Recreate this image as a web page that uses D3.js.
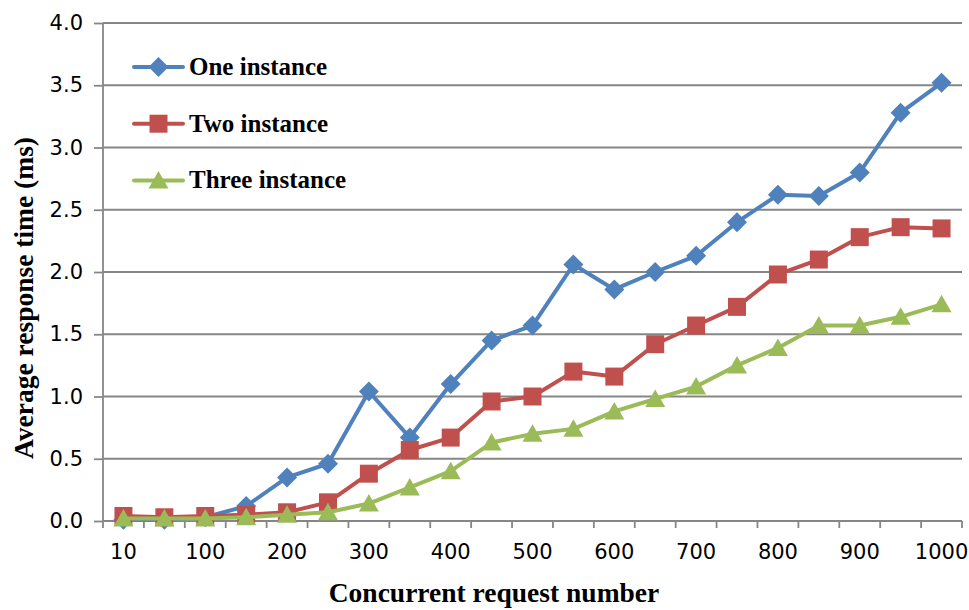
<!DOCTYPE html>
<html>
<head>
<meta charset="utf-8">
<script src="https://cdn.jsdelivr.net/npm/d3@7/dist/d3.min.js"></script>
<style>
  body { margin: 0; background: #fff; }
  svg { display: block; }
</style>
</head>
<body>
<div id="chart"></div>
<script>
// data
const categories = ["10", "50", "100", "150", "200", "250", "300", "350", "400", "450", "500",
                    "550", "600", "650", "700", "750", "800", "850", "900", "950", "1000"];
const oneInstance = [0.01, 0.01, 0.03, 0.12, 0.35, 0.46, 1.04, 0.67, 1.10, 1.45, 1.57,
                     2.06, 1.86, 2.00, 2.13, 2.40, 2.62, 2.61, 2.80, 3.28, 3.52];
const twoInstance = [0.04, 0.03, 0.04, 0.05, 0.07, 0.15, 0.38, 0.57, 0.67, 0.96, 1.00,
                     1.20, 1.16, 1.42, 1.57, 1.72, 1.98, 2.10, 2.28, 2.36, 2.35];
const threeInstance = [0.02, 0.02, 0.02, 0.03, 0.05, 0.07, 0.14, 0.27, 0.40, 0.63, 0.70,
                       0.74, 0.88, 0.98, 1.08, 1.25, 1.39, 1.57, 1.57, 1.64, 1.74];
const seriesNames = ["One instance", "Two instance", "Three instance"];
const yTicks = [0, 0.5, 1.0, 1.5, 2.0, 2.5, 3.0, 3.5, 4.0];

const W = 969, H = 610;
const margin = { top: 23, right: 7, bottom: 89, left: 103 };
const gridColor = "#868686";
const colors = ["#4f81bd", "#c0504d", "#9bbb59"];
const tickFont = "'DejaVu Sans', Verdana, sans-serif";
const titleFont = "'Liberation Serif', 'Times New Roman', serif";

const svg = d3.select("#chart").append("svg")
    .attr("width", W)
    .attr("height", H);

const x = d3.scaleBand()
    .domain(categories)
    .range([margin.left, W - margin.right])
    .padding(0);

const y = d3.scaleLinear()
    .domain([0, 4])
    .range([H - margin.bottom, margin.top]);

const cx = d => x(d) + x.bandwidth() / 2;

// horizontal gridlines
svg.append("g")
    .selectAll("line")
    .data(yTicks)
    .join("line")
    .attr("x1", margin.left)
    .attr("x2", W - margin.right)
    .attr("y1", d => y(d))
    .attr("y2", d => y(d))
    .attr("stroke", gridColor)
    .attr("stroke-width", 1.8);

// y axis
const yAxis = svg.append("g")
    .attr("transform", `translate(${margin.left},0)`)
    .call(d3.axisLeft(y).tickValues(yTicks).tickFormat(d3.format(".1f")).tickSize(9).tickPadding(11));
yAxis.select(".domain").remove();
yAxis.selectAll("line").attr("stroke", gridColor).attr("stroke-width", 1.8);
yAxis.selectAll("text")
    .attr("fill", "#000")
    .style("font-family", tickFont)
    .style("font-size", "21px");

svg.append("line")
    .attr("x1", margin.left).attr("x2", margin.left)
    .attr("y1", y(4)).attr("y2", y(0))
    .attr("stroke", gridColor).attr("stroke-width", 1.8);

// x axis: labels on every other category, ticks between categories
const xAxis = svg.append("g")
    .attr("transform", `translate(0,${y(0)})`)
    .call(d3.axisBottom(x).tickSize(0).tickFormat((d, i) => i % 2 === 0 ? d : ""));
xAxis.select(".domain").remove();
xAxis.selectAll("text")
    .attr("y", 23)
    .attr("fill", "#000")
    .style("font-family", tickFont)
    .style("font-size", "21px");

const bounds = categories.map(c => x(c)).concat([x.range()[1]]);
svg.append("g")
    .selectAll("line")
    .data(bounds)
    .join("line")
    .attr("x1", d => d).attr("x2", d => d)
    .attr("y1", y(0)).attr("y2", y(0) + 7)
    .attr("stroke", gridColor).attr("stroke-width", 1.8);

svg.append("line")
    .attr("x1", margin.left).attr("x2", W - margin.right)
    .attr("y1", y(0)).attr("y2", y(0))
    .attr("stroke", gridColor).attr("stroke-width", 1.8);

// markers
const markerPath = [
    "M0,-10L10,0L0,10L-10,0Z",        // diamond
    "M-9,-9L9,-9L9,9L-9,9Z",          // square
    "M0,-9.5L10,8L-10,8Z"             // triangle
];

const series = [oneInstance, twoInstance, threeInstance];
const line = d3.line()
    .x((d, i) => cx(categories[i]))
    .y(d => y(d));

series.forEach((vals, s) => {
    const g = svg.append("g");
    g.append("path")
        .datum(vals)
        .attr("d", line)
        .attr("fill", "none")
        .attr("stroke", colors[s])
        .attr("stroke-width", 4)
        .attr("stroke-linejoin", "round");
    g.selectAll("path.mk")
        .data(vals)
        .join("path")
        .attr("class", "mk")
        .attr("d", markerPath[s])
        .attr("transform", (d, i) => `translate(${cx(categories[i])},${y(d)})`)
        .attr("fill", colors[s]);
});

// legend
const legend = svg.append("g");
seriesNames.forEach((name, s) => {
    const ly = 67 + s * 56.7;
    legend.append("line")
        .attr("x1", 134).attr("x2", 183)
        .attr("y1", ly).attr("y2", ly)
        .attr("stroke", colors[s])
        .attr("stroke-width", 4)
        .attr("stroke-linecap", "round");
    legend.append("path")
        .attr("d", markerPath[s])
        .attr("transform", `translate(158.5,${ly})`)
        .attr("fill", colors[s]);
    legend.append("text")
        .attr("x", 189)
        .attr("y", ly + 8)
        .style("font-family", titleFont)
        .style("font-weight", "bold")
        .style("font-size", "25px")
        .text(name);
});

// axis titles
svg.append("text")
    .attr("x", 494)
    .attr("y", 602)
    .attr("text-anchor", "middle")
    .style("font-family", titleFont)
    .style("font-weight", "bold")
    .style("font-size", "27.5px")
    .text("Concurrent request number");

svg.append("text")
    .attr("transform", "translate(33,298) rotate(-90)")
    .attr("text-anchor", "middle")
    .style("font-family", titleFont)
    .style("font-weight", "bold")
    .style("font-size", "27.5px")
    .text("Average response time (ms)");
</script>
</body>
</html>
